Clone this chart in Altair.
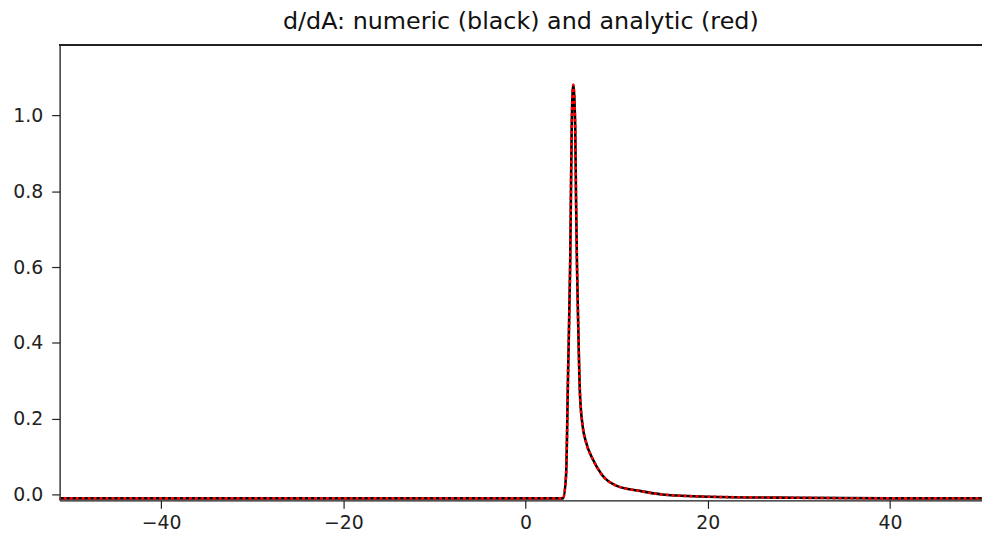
import altair as alt
import pandas as pd

# x positions
x_vals = [-52.0, -40.0, -20.0, 0.0, 3.0, 4.0, 4.11, 4.44, 4.67, 4.90, 5.06, 5.23,
          5.45, 5.53, 5.63, 5.78, 5.96, 6.26, 6.62, 7.35, 8.44, 9.88, 12.8,
          15.0, 20.0, 30.0, 40.0, 51.0]
# numeric derivative (black)
numeric = [-0.0105, -0.0105, -0.0105, -0.0105, -0.0105, -0.0105, -0.010, 0.05, 0.33,
           0.62, 0.967, 1.081, 0.967, 0.794, 0.62, 0.443, 0.27, 0.181, 0.139,
           0.094, 0.05, 0.024, 0.008, 0.0, -0.006, -0.009, -0.0105, -0.0105]
# analytic derivative (red)
analytic = [-0.0105, -0.0105, -0.0105, -0.0105, -0.0105, -0.0105, -0.010, 0.05, 0.33,
            0.62, 0.967, 1.081, 0.967, 0.794, 0.62, 0.443, 0.27, 0.181, 0.139,
            0.094, 0.05, 0.024, 0.008, 0.0, -0.006, -0.009, -0.0105, -0.0105]

x_ticks = [-40, -20, 0, 20, 40]
y_ticks = [0.0, 0.2, 0.4, 0.6, 0.8, 1.0]

df = pd.DataFrame({"x": x_vals, "numeric": numeric, "analytic": analytic})

W, H = 929, 459
FONT = "DejaVu Sans"
AX = "#222222"

xscale = alt.Scale(domain=[-51.15, 50.1], nice=False, zero=False)
yscale = alt.Scale(domain=[-0.0157, 1.187], nice=False, zero=False)

xaxis = alt.Axis(values=x_ticks, format="d", title=None, grid=False,
                 domainColor=AX, tickColor=AX, tickSize=8, tickWidth=1.2,
                 domainWidth=1.3, labelFont=FONT, labelFontSize=19,
                 labelColor=AX, labelPadding=5)
yaxis = alt.Axis(values=y_ticks, format=".1f", title=None, grid=False,
                 domainColor=AX, tickColor=AX, tickSize=8, tickWidth=1.2,
                 domainWidth=1.3, labelFont=FONT, labelFontSize=19,
                 labelColor=AX, labelPadding=9)

black = alt.Chart(df).mark_line(color="black", strokeWidth=2.6, clip=True,
                                interpolate="monotone").encode(
    x=alt.X("x:Q", scale=xscale, axis=xaxis),
    y=alt.Y("numeric:Q", scale=yscale, axis=yaxis),
)
red = alt.Chart(df).mark_line(color="#ff0000", strokeWidth=2.6, strokeDash=[3, 3],
                              clip=True, interpolate="monotone").encode(
    x=alt.X("x:Q", scale=xscale),
    y=alt.Y("analytic:Q", scale=yscale),
)
top_spine = alt.Chart(df).mark_rule(color=AX, strokeWidth=1.3).encode(
    x=alt.value(0), x2=alt.value(W), y=alt.value(0)
)

chart = alt.layer(black, red, top_spine).properties(
    width=W, height=H,
    title=alt.Title("d/dA: numeric (black) and analytic (red)", font=FONT,
                    fontSize=24, fontWeight="normal", color="#111111",
                    anchor="middle", offset=10),
    padding={"left": 52, "top": 35, "right": 0, "bottom": 34},
    autosize=alt.AutoSizeParams(type="none"),
).configure_view(stroke=None).configure(background="white")

chart.save("out.html", embed_options={"renderer": "svg", "actions": False})
